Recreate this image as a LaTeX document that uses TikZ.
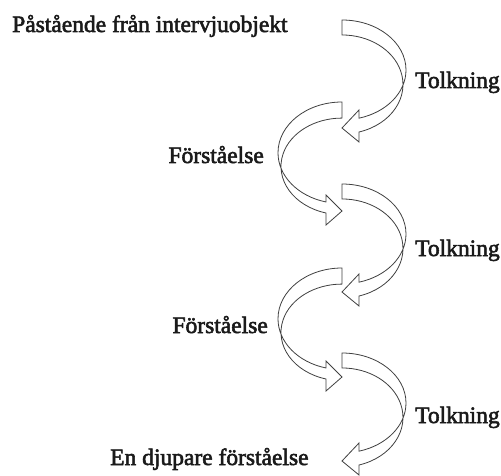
\documentclass[tikz,border=0pt]{standalone}
\usepackage{fontspec}
\setmainfont{Liberation Serif}
\newfontfamily\stagefont{Liberation Serif}[FakeBold=2.4]
\usepackage{tikz}
\usepackage{xcolor}
\usetikzlibrary{positioning}
\definecolor{linegray}{HTML}{404040}
\definecolor{inkgray}{HTML}{1A1A1A}
\tikzset{
  stage/.style={
    inner sep=0pt,
    text=inkgray,
    font=\stagefont\fontsize{23.5}{27}\selectfont
  },
  bendarrow/.style={
    draw=linegray,
    fill=white,
    line width=0.8pt,
    line join=miter
  }
}

\begin{document}
\begin{tikzpicture}[x=1pt, y=-1pt]
  \useasboundingbox (0,0) rectangle (501,476);

  % curved block arrows bending to the right
  \foreach \y in {20,184,353} {
    \draw[bendarrow] (342,\y) arc[start angle=-90, end angle=74.6, x radius=64, y radius=50]
      -- (359,\y+90) -- (342,\y+108) -- (359,\y+122) -- (359,\y+112)
      arc[start angle=73.8, end angle=-90, x radius=61, y radius=49.5] -- cycle;
  }
  % curved block arrows bending to the left
  \foreach \y in {102,268} {
    \draw[bendarrow] (342,\y) arc[start angle=-90, end angle=-255.5, x radius=64, y radius=50.8]
      -- (326,\y+93) -- (342,\y+109) -- (326,\y+123) -- (326,\y+111)
      arc[start angle=-254.8, end angle=-90, x radius=61, y radius=48.3] -- cycle;
  }

  \node[stage, anchor=base west] (claim) at (12,32) {Påstående från intervjuobjekt};
  \node[stage, anchor=base west] (tolk1) at (415,88) {Tolkning};
  \node[stage, anchor=base east] (forst1) at (264,163) {Förståelse};
  \node[stage, anchor=base west] (tolk2) at (415,256) {Tolkning};
  \node[stage, anchor=base east] (forst2) at (268,333) {Förståelse};
  \node[stage, anchor=base west] (tolk3) at (415,423) {Tolkning};
  \node[stage, anchor=base west] (deeper) at (110,465) {En djupare förståelse};
\end{tikzpicture}
\end{document}
